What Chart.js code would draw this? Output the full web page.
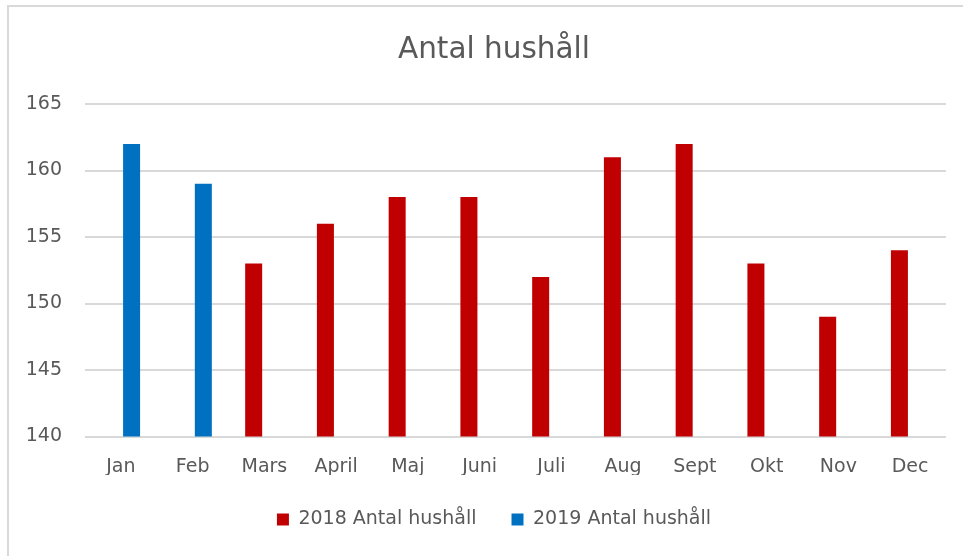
<!DOCTYPE html>
<html>
<head>
<meta charset="utf-8">
<script src="https://cdn.jsdelivr.net/npm/chart.js@4"></script>
<style>
  html, body { margin: 0; padding: 0; background: #fff; overflow: hidden; }
  .frame {
    position: absolute; left: 7px; top: 5px; height: 600px;
    border-left: 2px solid #d9d9d9; border-top: 2px solid #d9d9d9;
  }
  canvas { display: block; }
</style>
</head>
<body>
<div class="frame">
  <canvas id="chart" width="970" height="532"></canvas>
</div>
<script>
const months = ['Jan', 'Feb', 'Mars', 'April', 'Maj', 'Juni', 'Juli', 'Aug', 'Sept', 'Okt', 'Nov', 'Dec'];
const hushall2018 = [null, null, 153, 156, 158, 158, 152, 161, 162, 153, 149, 154];
const hushall2019 = [162, 159, null, null, null, null, null, null, null, null, null, null];
const yTicks = [140, 145, 150, 155, 160, 165];

const TEXT = '#595959';
const GRID = '#d9d9d9';
const FONT = 'DejaVu Sans';

new Chart(document.getElementById('chart'), {
  type: 'bar',
  data: {
    labels: months,
    datasets: [
      {
        label: '2018 Antal hushåll',
        data: hushall2018,
        backgroundColor: '#c00000',
        categoryPercentage: 0.597,
        barPercentage: 0.794,
      },
      {
        label: '2019 Antal hushåll',
        data: hushall2019,
        backgroundColor: '#0070c0',
        categoryPercentage: 0.597,
        barPercentage: 0.794,
      },
    ],
  },
  options: {
    responsive: false,
    animation: false,
    layout: { padding: 0 },
    plugins: {
      title: {
        display: true,
        text: 'Antal hushåll',
        color: TEXT,
        font: { family: FONT, size: 29.5, weight: 'normal', lineHeight: 1.2 },
        padding: { top: 25.6, bottom: 36 },
      },
      legend: {
        position: 'bottom',
        labels: {
          color: TEXT,
          font: { family: FONT, size: 19 },
          boxWidth: 12,
          boxHeight: 12,
          padding: 35,
        },
      },
      tooltip: { enabled: false },
    },
    scales: {
      x: {
        grid: { display: false, drawTicks: false },
        border: { display: false },
        ticks: { color: TEXT, font: { family: FONT, size: 19 }, padding: 19 },
        afterFit: scale => { scale.height = 38.5; },
      },
      y: {
        min: yTicks[0],
        max: yTicks[yTicks.length - 1],
        afterBuildTicks: scale => { scale.ticks = yTicks.map(v => ({ value: v })); },
        afterFit: scale => { scale.width = 76; },
        grid: { color: GRID, lineWidth: 2, drawTicks: false },
        border: { display: false },
        ticks: { color: TEXT, font: { family: FONT, size: 19 }, padding: 23 },
      },
      // empty right margin so the plot ends where the reference's does
      yRight: {
        type: 'linear',
        position: 'right',
        grid: { display: false, drawTicks: false },
        border: { display: false },
        ticks: { display: false },
        afterFit: scale => { scale.width = 33; },
      },
    },
  },
});
</script>
</body>
</html>
